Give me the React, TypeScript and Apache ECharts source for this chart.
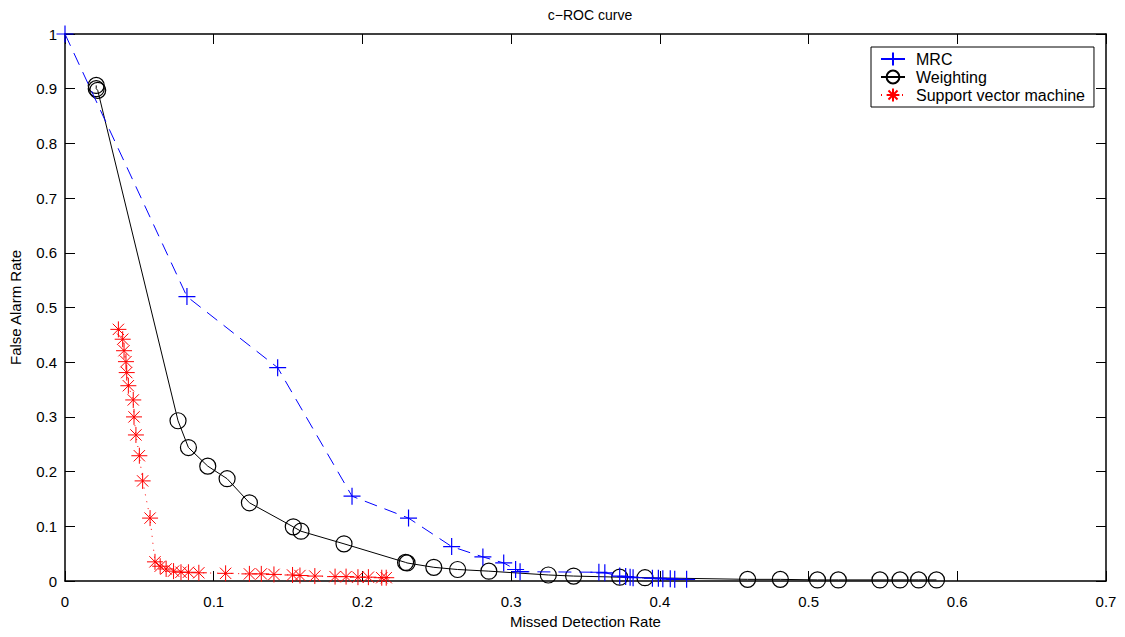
import React, { useEffect, useRef } from "react";
import * as echarts from "echarts";

const mrcX = [0, 0.082, 0.143, 0.193, 0.231, 0.26, 0.281, 0.295, 0.303, 0.306, 0.359, 0.363, 0.373, 0.377, 0.38, 0.382, 0.395, 0.399, 0.402, 0.407, 0.41, 0.418];
const mrcY = [1, 0.52, 0.39, 0.155, 0.115, 0.063, 0.044, 0.033, 0.021, 0.017, 0.016, 0.015, 0.009, 0.008, 0.007, 0.006, 0.005, 0.005, 0.004, 0.004, 0.003, 0.003];

const wX = [0.021, 0.021, 0.022, 0.076, 0.083, 0.096, 0.109, 0.124, 0.1535, 0.1587, 0.1876, 0.229, 0.23, 0.248, 0.264, 0.285, 0.325, 0.342, 0.373, 0.39, 0.459, 0.481, 0.506, 0.52, 0.548, 0.5615, 0.574, 0.586];
const wY = [0.906, 0.9, 0.897, 0.293, 0.244, 0.21, 0.187, 0.143, 0.099, 0.091, 0.068, 0.034, 0.033, 0.025, 0.021, 0.018, 0.011, 0.009, 0.007, 0.006, 0.003, 0.003, 0.002, 0.002, 0.002, 0.002, 0.002, 0.002];

const svmX = [0.0359, 0.0388, 0.0397, 0.041, 0.0415, 0.0426, 0.0459, 0.0464, 0.0477, 0.05, 0.0522, 0.0572, 0.0605, 0.064, 0.068, 0.073, 0.078, 0.083, 0.09, 0.108, 0.124, 0.132, 0.1405, 0.153, 0.158, 0.168, 0.1816, 0.189, 0.197, 0.204, 0.213, 0.216];
const svmY = [0.46, 0.442, 0.421, 0.401, 0.381, 0.357, 0.331, 0.3, 0.267, 0.229, 0.183, 0.115, 0.035, 0.027, 0.022, 0.018, 0.016, 0.016, 0.015, 0.014, 0.013, 0.013, 0.012, 0.011, 0.01, 0.009, 0.008, 0.008, 0.007, 0.007, 0.006, 0.006];

const seriesNames = ["MRC", "Weighting", "Support vector machine"];
const titleText = "c−ROC curve";
const xName = "Missed Detection Rate";
const yName = "False Alarm Rate";

const PLUS = "path://M0,-1 L0,1 M-1,0 L1,0";
const STAR = "path://M0,-1 L0,1 M-1,0 L1,0 M-0.707,-0.707 L0.707,0.707 M-0.707,0.707 L0.707,-0.707";
const CIRCLE = "path://M1,0 A1,1 0 1,1 -1,0 A1,1 0 1,1 1,0 Z";

const zip = (xs: number[], ys: number[]) => xs.map((x, i) => [x, ys[i]]);

const FONT = "Liberation Sans, Arial, Helvetica, sans-serif";

export default function App() {
  const ref = useRef<HTMLDivElement>(null);
  useEffect(() => {
    document.body.style.margin = "0";
    const chart = echarts.init(ref.current!, null, { renderer: "svg" });
    const axisCommon = {
      type: "value" as const,
      axisLine: { show: true, onZero: false, lineStyle: { color: "#000", width: 1.5 } },
      axisTick: { show: true, inside: true, length: 10, lineStyle: { color: "#000", width: 1 } },
      splitLine: { show: false },
    };
    chart.setOption({
      animation: false,
      backgroundColor: "#fff",
      textStyle: { fontFamily: FONT },
      title: {
        text: titleText,
        left: 585,
        top: 3,
        textAlign: "center",
        textStyle: { fontSize: 14, fontWeight: "normal", color: "#000", fontFamily: FONT },
      },
      grid: { left: 65, right: 19, top: 34, bottom: 56, containLabel: false },
      legend: {
        orient: "vertical",
        left: 871,
        top: 47,
        backgroundColor: "#fff",
        borderColor: "#000",
        borderWidth: 1,
        borderRadius: 0,
        padding: [4, 9, 4, 9],
        itemGap: 2,
        itemWidth: 24,
        itemHeight: 16,
        textStyle: { fontSize: 16, color: "#000", fontFamily: FONT, padding: [0, 0, 0, 6] },
        data: [
          { name: seriesNames[0], lineStyle: { type: "solid" } },
          { name: seriesNames[1] },
          { name: seriesNames[2] },
        ],
      },
      xAxis: [
        {
          ...axisCommon,
          min: 0,
          max: 0.7,
          interval: 0.1,
          position: "bottom",
          name: xName,
          nameLocation: "middle",
          nameGap: 33,
          nameTextStyle: { fontSize: 15, color: "#000", fontFamily: FONT },
          axisLabel: { fontSize: 15, color: "#000", margin: 13, fontFamily: FONT },
        },
        {
          ...axisCommon,
          min: 0,
          max: 0.7,
          interval: 0.1,
          position: "top",
          axisLabel: { show: false },
        },
      ],
      yAxis: [
        {
          ...axisCommon,
          min: 0,
          max: 1,
          interval: 0.1,
          position: "left",
          name: yName,
          nameLocation: "middle",
          nameGap: 42,
          nameTextStyle: { fontSize: 15, color: "#000", fontFamily: FONT },
          axisLabel: { fontSize: 15, color: "#000", margin: 8, fontFamily: FONT },
        },
        {
          ...axisCommon,
          min: 0,
          max: 1,
          interval: 0.1,
          position: "right",
          axisLabel: { show: false },
        },
      ],
      series: [
        {
          name: seriesNames[0],
          type: "line",
          data: zip(mrcX, mrcY),
          symbol: PLUS,
          symbolSize: 17,
          showAllSymbol: true,
          lineStyle: { color: "#0000ff", width: 1, type: [13, 8] },
          itemStyle: { color: "#0000ff", borderColor: "#0000ff", borderWidth: 1.2 },
          z: 3,
        },
        {
          name: seriesNames[1],
          type: "line",
          data: zip(wX, wY),
          symbol: CIRCLE,
          symbolSize: 16,
          showAllSymbol: true,
          lineStyle: { color: "#000", width: 1, type: "solid" },
          itemStyle: { color: "rgba(0,0,0,0)", borderColor: "#000", borderWidth: 1.2 },
          z: 2,
        },
        {
          name: seriesNames[2],
          type: "line",
          data: zip(svmX, svmY),
          symbol: STAR,
          symbolSize: 16,
          showAllSymbol: true,
          lineStyle: { color: "#ff0000", width: 1, type: [1, 6] },
          itemStyle: { color: "#ff0000", borderColor: "#ff0000", borderWidth: 1 },
          z: 4,
        },
      ],
    });
    return () => chart.dispose();
  }, []);
  return (
    <div
      ref={ref}
      style={{ position: "absolute", left: 0, top: 0, width: 1125, height: 637 }}
    />
  );
}
